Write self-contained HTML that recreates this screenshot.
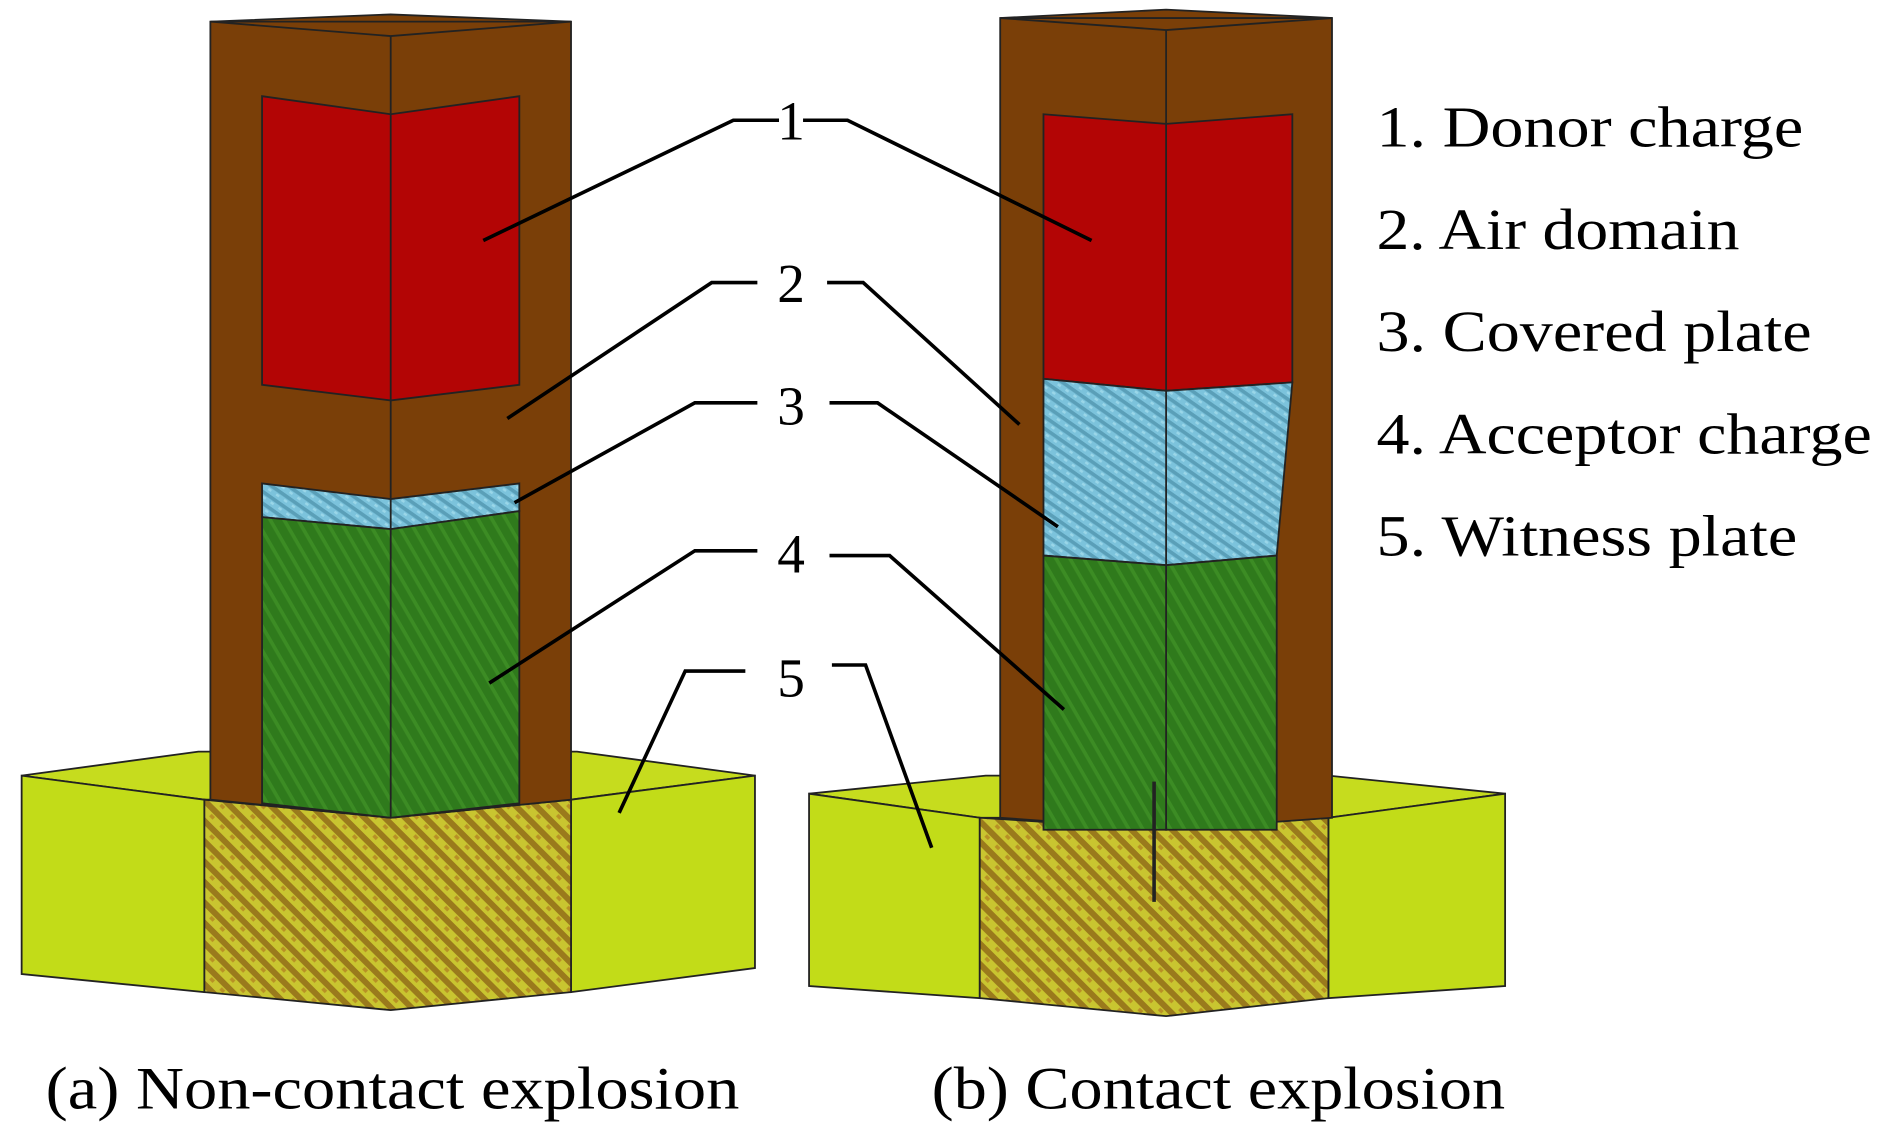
<!DOCTYPE html>
<html><head><meta charset="utf-8"><style>
html,body{margin:0;padding:0;background:#fff;width:1885px;height:1134px;overflow:hidden}
svg{display:block}
text{font-family:"Liberation Serif",serif;fill:#000}
</style></head><body>
<svg width="1885" height="1134" viewBox="0 0 1568 943" preserveAspectRatio="none" xmlns="http://www.w3.org/2000/svg">
<defs>
<pattern id="blue" width="8" height="8" patternUnits="userSpaceOnUse" patternTransform="rotate(35)">
<rect width="8" height="8" fill="#7cc3dc"/><rect width="8" height="3" fill="#5a9fb8"/><rect x="0" y="4" width="3" height="2" fill="#9ad6e8"/>
</pattern>
<pattern id="green" width="10" height="10" patternUnits="userSpaceOnUse" patternTransform="rotate(60)">
<rect width="10" height="10" fill="#2f7a1c"/><rect width="10" height="3" fill="#3c8c24"/>
</pattern>
<pattern id="weave" width="12" height="12" patternUnits="userSpaceOnUse" patternTransform="rotate(45)">
<rect width="12" height="12" fill="#c9c530"/><rect width="12" height="5" fill="#9a7a1c"/><rect x="3" y="6" width="4" height="3" fill="#b89025"/>
</pattern>
</defs>
<rect width="1568" height="943" fill="#fff"/>
<g stroke="#222" stroke-width="1.5">
<polygon points="18,645 165,625 480,625 628,645 475,665 170,665" fill="#c6dc1e"/>
<polygon points="18,645 170,665 170,825 18,810" fill="#c2dc18"/>
<polygon points="475,665 628,645 628,805 475,825" fill="#c2dc18"/>
<polygon points="170,665 325,680 475,665 475,825 325,840 170,825" fill="url(#weave)"/>
<polygon points="175,18 325,12 475,18 475,665 325,680 175,665" fill="#7a3f08"/>
<polygon points="175,18 325,30 475,18" fill="none"/>
<line x1="325" y1="30" x2="325" y2="680"/>
<polygon points="218,80 325,95 432,80 432,320 325,333 218,320" fill="#b30505"/>
<line x1="325" y1="95" x2="325" y2="333"/>
<polygon points="218,402 325,415 432,402 432,425 325,440 218,430" fill="url(#blue)"/>
<polygon points="218,430 325,440 432,425 432,668 325,680 218,668" fill="url(#green)"/>
<line x1="325" y1="415" x2="325" y2="680"/>
<polygon points="673,660 820,645 1105,645 1252,660 1105,680 815,680" fill="#c6dc1e"/>
<polygon points="673,660 815,680 815,830 673,820" fill="#c2dc18"/>
<polygon points="1105,680 1252,660 1252,820 1105,830" fill="#c2dc18"/>
<polygon points="815,680 970,690 1105,680 1105,830 970,845 815,830" fill="url(#weave)"/>
<polygon points="832,15 970,8 1108,15 1108,680 970,690 832,680" fill="#7a3f08"/>
<polygon points="832,15 970,25 1108,15" fill="none"/>
<line x1="970" y1="25" x2="970" y2="690"/>
<polygon points="868,95 970,103 1075,95 1075,318 970,325 868,315" fill="#b30505"/>
<line x1="970" y1="103" x2="970" y2="325"/>
<polygon points="868,315 970,325 1075,318 1062,462 970,470 868,462" fill="url(#blue)"/>
<polygon points="868,462 970,470 1062,462 1062,690 970,690 868,690" fill="url(#green)"/>
<line x1="970" y1="325" x2="970" y2="690"/>
<line x1="960" y1="650" x2="960" y2="750" stroke-width="3"/>
</g>
<g stroke="#000" stroke-width="3" fill="none">
<polyline points="648,100 610,100 402,200"/><polyline points="668,100 705,100 908,200"/>
<polyline points="630,235 592,235 422,348"/><polyline points="688,235 718,235 848,353"/>
<polyline points="630,335 578,335 428,418"/><polyline points="690,335 730,335 880,438"/>
<polyline points="630,458 578,458 407,568"/><polyline points="690,462 740,462 885,590"/>
<polyline points="620,558 570,558 515,676"/><polyline points="692,553 720,553 775,705"/>
</g>
<g font-size="46" text-anchor="middle">
<text x="658" y="116">1</text>
<text x="658" y="251">2</text>
<text x="658" y="353">3</text>
<text x="658" y="476">4</text>
<text x="658" y="579">5</text>
</g>
<g font-size="48">
<text x="1145" y="122" textLength="355" lengthAdjust="spacingAndGlyphs">1. Donor charge</text>
<text x="1145" y="207" textLength="302" lengthAdjust="spacingAndGlyphs">2. Air domain</text>
<text x="1145" y="292" textLength="362" lengthAdjust="spacingAndGlyphs">3. Covered plate</text>
<text x="1145" y="377" textLength="412" lengthAdjust="spacingAndGlyphs">4. Acceptor charge</text>
<text x="1145" y="462" textLength="350" lengthAdjust="spacingAndGlyphs">5. Witness plate</text>
</g>
<g font-size="50">
<text x="38" y="922" textLength="577" lengthAdjust="spacingAndGlyphs">(a) Non-contact explosion</text>
<text x="775" y="922" textLength="477" lengthAdjust="spacingAndGlyphs">(b) Contact explosion</text>
</g>
</svg>
</body></html>
